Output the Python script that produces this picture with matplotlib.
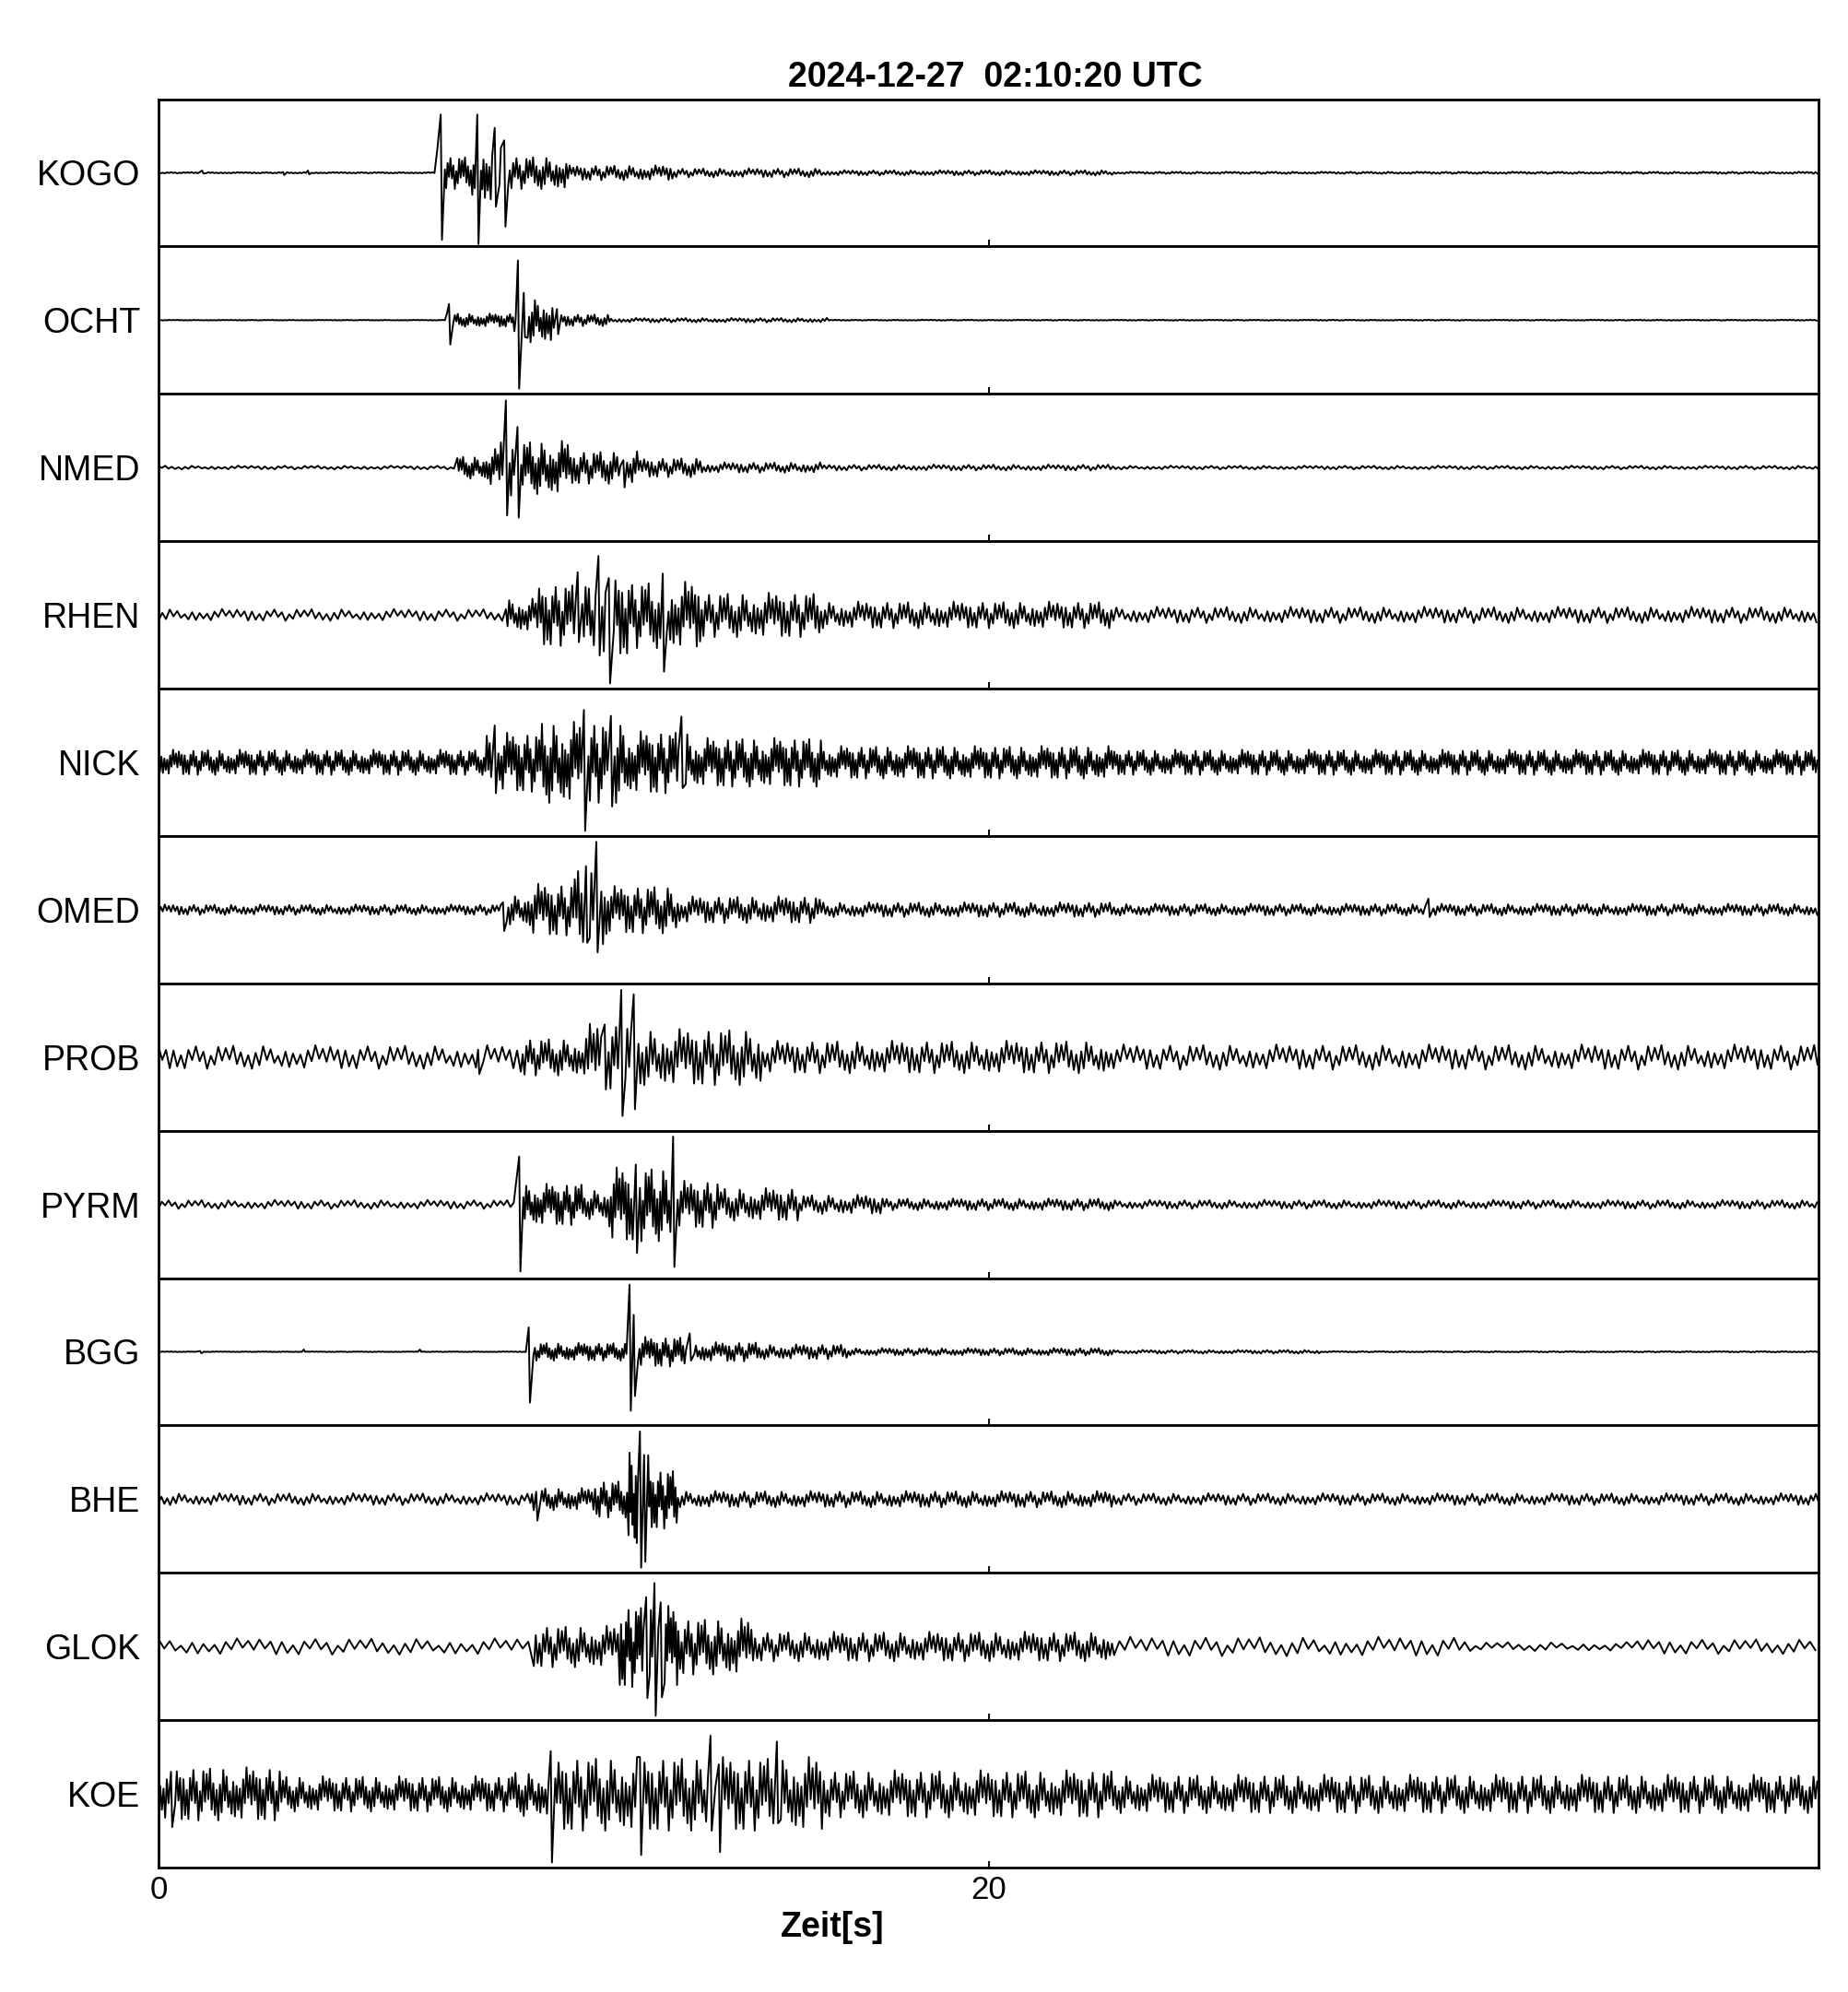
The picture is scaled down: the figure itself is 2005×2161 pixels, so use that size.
import matplotlib
matplotlib.use('Agg')
import matplotlib.pyplot as plt
import numpy as np

plt.rcParams['font.family'] = ['Liberation Sans', 'DejaVu Sans']

title = '2024-12-27  02:10:20 UTC'
stations = ['KOGO', 'OCHT', 'NMED', 'RHEN', 'NICK', 'OMED',
            'PROB', 'PYRM', 'BGG', 'BHE', 'GLOK', 'KOE']
t_max = 40.0
x_ticks = [0, 20]

# each trace read off the picture as amplitude segments:
# start time [s], peak amplitude (1 = half panel height), half period [s]
# plus single spikes (time [s], top, bottom)
kogo_seg_t = [0, 6.7, 6.9, 7.55, 7.8, 8.4, 9.9, 12.4, 16.0, 23.0]
kogo_seg_a = [0.008, 0.3, 0.22, 0.3, 0.4, 0.22, 0.1, 0.06, 0.035, 0.015]
kogo_seg_h = [0.05, 0.03, 0.035, 0.03, 0.035, 0.04, 0.045, 0.05, 0.05, 0.05]
kogo_spikes = [(1.05, 0.03, -0.01), (3.0, 0.01, -0.03), (3.6, 0.03, -0.02),
               (6.72, 0.33, -0.2), (6.8, 0.79, -0.91), (7.68, 0.79, -0.97),
               (8.1, 0.61, -0.46), (8.33, 0.44, -0.73)]

ocht_seg_t = [0, 6.9, 7.05, 8.55, 8.75, 9.65, 10.9, 16.2]
ocht_seg_a = [0.004, 0.2, 0.09, 0.15, 0.3, 0.08, 0.03, 0.006]
ocht_seg_h = [0.05, 0.03, 0.035, 0.03, 0.035, 0.04, 0.05, 0.05]
ocht_spikes = [(7.0, 0.22, -0.33), (8.66, 0.81, -0.93), (8.8, 0.37, -0.23),
               (9.6, 0.15, -0.19)]

nmed_seg_t = [0, 7.15, 7.9, 8.2, 8.7, 9.9, 11.6, 13.1, 16.0, 23.0]
nmed_seg_a = [0.025, 0.15, 0.25, 0.4, 0.36, 0.22, 0.13, 0.07, 0.04, 0.025]
nmed_seg_h = [0.08, 0.035, 0.035, 0.035, 0.035, 0.04, 0.045, 0.05, 0.06, 0.07]
nmed_spikes = [(8.37, 0.91, -0.65), (8.65, 0.55, -0.68), (11.2, 0.1, -0.27)]

rhen_seg_t = [0, 8.35, 9.1, 10.3, 11.35, 13.1, 16.0, 23.0]
rhen_seg_a = [0.08, 0.22, 0.42, 0.55, 0.45, 0.3, 0.18, 0.11]
rhen_seg_h = [0.09, 0.04, 0.04, 0.04, 0.04, 0.045, 0.05, 0.07]
rhen_spikes = [(10.1, 0.58, -0.37), (10.6, 0.8, -0.55), (10.85, 0.5, -0.93),
               (12.15, 0.56, -0.77)]

nick_seg_t = [0, 7.9, 9.2, 10.2, 11.3, 12.8, 16.0, 23.0]
nick_seg_a = [0.17, 0.4, 0.55, 0.55, 0.42, 0.33, 0.22, 0.17]
nick_seg_h = [0.035, 0.035, 0.035, 0.035, 0.035, 0.035, 0.035, 0.035]
nick_spikes = [(8.1, 0.5, -0.42), (10.25, 0.71, -0.93), (10.9, 0.63, -0.6),
               (12.6, 0.62, -0.35)]

omed_seg_t = [0, 8.3, 8.9, 10.0, 10.85, 12.5, 16.0, 23.0]
omed_seg_a = [0.07, 0.2, 0.35, 0.55, 0.32, 0.18, 0.1, 0.08]
omed_seg_h = [0.05, 0.04, 0.04, 0.04, 0.04, 0.045, 0.05, 0.05]
omed_spikes = [(8.3, 0.1, -0.29), (10.3, 0.59, -0.45), (10.55, 0.92, -0.58),
               (30.6, 0.15, -0.1)]

prob_seg_t = [0, 8.65, 10.3, 11.65, 14.55, 23.0]
prob_seg_a = [0.16, 0.25, 0.45, 0.38, 0.22, 0.17]
prob_seg_h = [0.09, 0.045, 0.045, 0.05, 0.06, 0.08]
prob_spikes = [(7.7, 0.1, -0.23), (10.75, 0.44, -0.44), (11.15, 0.91, -0.8),
               (11.45, 0.85, -0.71)]

pyrm_seg_t = [0, 8.65, 10.2, 10.85, 12.5, 13.5, 15.4, 17.5, 23.0]
pyrm_seg_a = [0.06, 0.28, 0.2, 0.5, 0.32, 0.22, 0.13, 0.08, 0.06]
pyrm_seg_h = [0.08, 0.035, 0.04, 0.035, 0.04, 0.045, 0.05, 0.05, 0.06]
pyrm_spikes = [(8.69, 0.65, -0.91), (11.5, 0.54, -0.66), (12.4, 0.92, -0.85)]

bgg_seg_t = [0, 8.95, 11.2, 11.5, 12.7, 14.5, 16.6, 23.0, 28.0]
bgg_seg_a = [0.004, 0.12, 0.12, 0.2, 0.13, 0.1, 0.05, 0.025, 0.008]
bgg_seg_h = [0.05, 0.035, 0.035, 0.035, 0.04, 0.045, 0.045, 0.05, 0.05]
bgg_spikes = [(1.0, 0.01, -0.02), (3.5, 0.03, 0.0), (6.3, 0.03, 0.0),
              (8.92, 0.33, -0.69), (11.35, 0.91, -0.8), (11.45, 0.5, -0.6),
              (12.8, 0.25, -0.12)]

bhe_seg_t = [0, 8.9, 10.5, 11.3, 11.8, 12.5, 23.0]
bhe_seg_a = [0.08, 0.15, 0.25, 0.7, 0.4, 0.11, 0.08]
bhe_seg_h = [0.07, 0.04, 0.035, 0.025, 0.03, 0.05, 0.06]
bhe_spikes = [(9.1, 0.1, -0.29), (11.6, 0.92, -0.93), (11.7, 0.6, -0.85)]

glok_seg_t = [0, 9.0, 11.1, 12.5, 14.3, 23.0, 31.5, 35.5]
glok_seg_a = [0.11, 0.28, 0.55, 0.38, 0.2, 0.13, 0.06, 0.1]
glok_seg_h = [0.135, 0.045, 0.03, 0.04, 0.05, 0.13, 0.13, 0.13]
glok_spikes = [(11.75, 0.67, -0.7), (11.95, 0.86, -0.94), (12.1, 0.6, -0.69)]

koe_seg_t = [0, 3.0, 8.5, 9.6, 16.0, 23.0]
koe_seg_a = [0.36, 0.24, 0.3, 0.5, 0.32, 0.26]
koe_seg_h = [0.04, 0.04, 0.04, 0.045, 0.045, 0.045]
koe_spikes = [(0.3, 0.3, -0.45), (9.45, 0.58, -0.93), (11.6, 0.5, -0.83),
              (13.3, 0.79, -0.5), (13.5, 0.4, -0.79), (14.9, 0.71, -0.4)]

# fixed swing pattern for the wiggle texture inside a segment
TEXTURE = [0.55, 0.80, 0.15, 0.95, 0.60, 0.25, 0.90, 0.35, 0.45, 1.00,
           0.10, 0.65, 0.85, 0.30, 0.75, 0.20, 0.95, 0.60, 0.40, 0.80,
           0.15, 1.00, 0.35, 0.70, 0.90, 0.25, 0.65, 0.50, 0.10, 0.75,
           0.45, 0.85, 0.30, 0.60, 0.20, 0.90, 0.55, 0.35, 1.00, 0.15,
           0.70, 0.40, 0.85, 0.25, 0.60, 0.95]

traces = {
    'KOGO': (kogo_seg_t, kogo_seg_a, kogo_seg_h, kogo_spikes),
    'OCHT': (ocht_seg_t, ocht_seg_a, ocht_seg_h, ocht_spikes),
    'NMED': (nmed_seg_t, nmed_seg_a, nmed_seg_h, nmed_spikes),
    'RHEN': (rhen_seg_t, rhen_seg_a, rhen_seg_h, rhen_spikes),
    'NICK': (nick_seg_t, nick_seg_a, nick_seg_h, nick_spikes),
    'OMED': (omed_seg_t, omed_seg_a, omed_seg_h, omed_spikes),
    'PROB': (prob_seg_t, prob_seg_a, prob_seg_h, prob_spikes),
    'PYRM': (pyrm_seg_t, pyrm_seg_a, pyrm_seg_h, pyrm_spikes),
    'BGG': (bgg_seg_t, bgg_seg_a, bgg_seg_h, bgg_spikes),
    'BHE': (bhe_seg_t, bhe_seg_a, bhe_seg_h, bhe_spikes),
    'GLOK': (glok_seg_t, glok_seg_a, glok_seg_h, glok_spikes),
    'KOE': (koe_seg_t, koe_seg_a, koe_seg_h, koe_spikes),
}


def build_trace(seg_t, seg_a, seg_h, spikes, offset):
    times, vals = [], []
    t, k = 0.0, offset
    while t <= t_max:
        i = np.searchsorted(seg_t, t, side='right') - 1
        sign = 1 if k % 2 == 0 else -1
        times.append(t)
        vals.append(sign * seg_a[i] * TEXTURE[k % len(TEXTURE)])
        t += seg_h[i]
        k += 1
    times = np.array(times)
    vals = np.array(vals)
    for ts, up, dn in spikes:
        keep = (times < ts - 0.05) | (times > ts + 0.08)
        times = np.concatenate([times[keep], [ts, ts + 0.03]])
        vals = np.concatenate([vals[keep], [up, dn]])
    order = np.argsort(times)
    return times[order], vals[order]


fig, axes = plt.subplots(len(stations), 1, figsize=(20.05, 21.61), dpi=100, sharex=True)
fig.subplots_adjust(left=172/2005, right=1973/2005, top=1-107.5/2161,
                    bottom=1-2026/2161, hspace=0)

for n, (ax, name) in enumerate(zip(axes, stations)):
    t, y = build_trace(*traces[name], offset=7*n)
    ax.plot(t, y, color='black', lw=1.4)
    ax.set_xlim(0, t_max)
    ax.set_ylim(-1, 1)
    ax.set_yticks([])
    for s in ax.spines.values():
        s.set_linewidth(2.0)
    ax.set_xticks(x_ticks)
    ax.tick_params(axis='x', direction='in', length=5, width=1.4,
                   labelbottom=False, labelsize=25, pad=6)
    ax.text(-0.011, 0.475, name, transform=ax.transAxes, ha='right', va='center',
            fontsize=27)

axes[-1].tick_params(axis='x', labelbottom=True)

fig.text(1080/2005, 1-94/2161, title, ha='center', va='baseline',
         fontsize=27, fontweight='bold')
fig.text(903/2005, 1-2101/2161, 'Zeit[s]', ha='center', va='baseline',
         fontsize=27, fontweight='bold')

fig.savefig('out.png', dpi=100)
